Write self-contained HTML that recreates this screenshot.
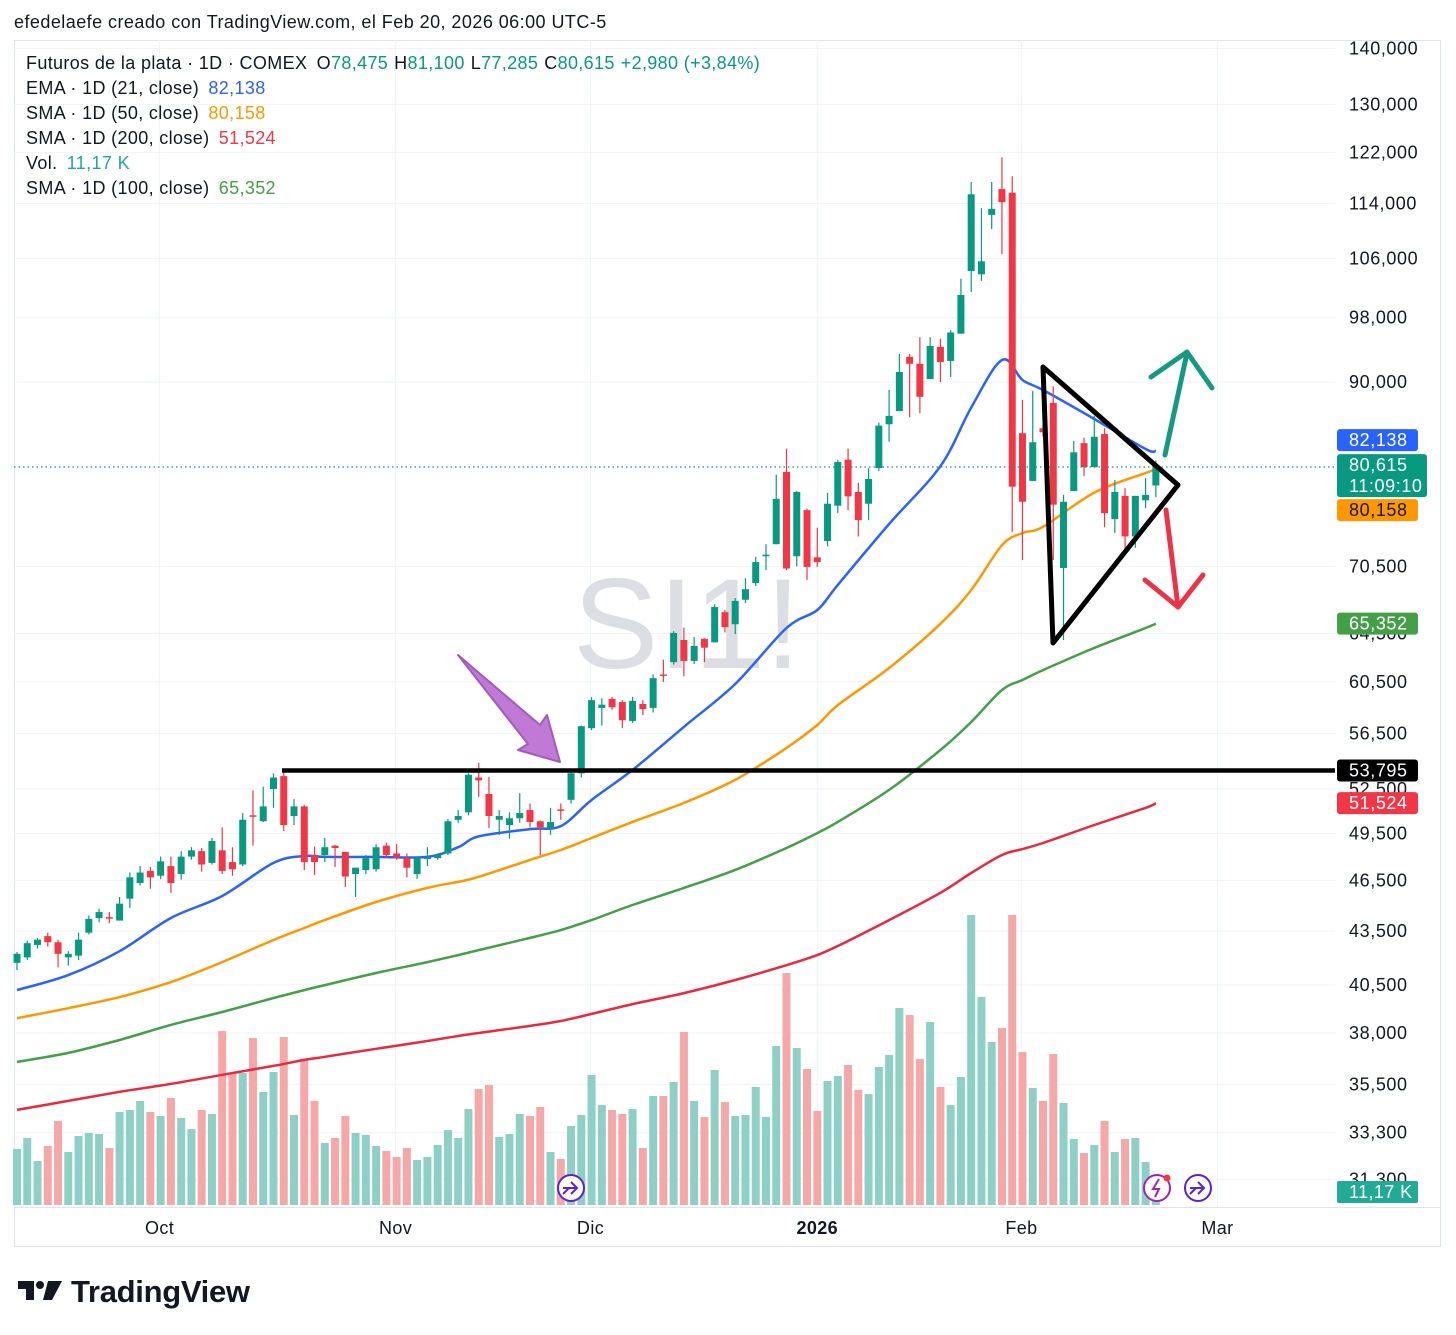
<!DOCTYPE html>
<html><head><meta charset="utf-8"><style>
html,body{margin:0;padding:0;background:#fff;}
svg{display:block;font-family:"Liberation Sans",sans-serif;}
</style></head><body>
<svg id="c" width="1456" height="1335" viewBox="0 0 1456 1335" xmlns="http://www.w3.org/2000/svg">
<text x="14" y="28" font-size="18" letter-spacing="0.45" fill="#131722">efedelaefe creado con TradingView.com, el Feb 20, 2026 06:00 UTC-5</text>
<rect x="14.5" y="40.5" width="1426" height="1206" fill="none" stroke="#e0e3eb"/>
<line x1="14" y1="1207.5" x2="1441" y2="1207.5" stroke="#e0e3eb"/>
<g id="grid"></g>
<text x="573" y="668" font-size="128" fill="#dcdee3">SI1!</text>
<g id="vol"></g>
<g id="mas"></g>
<g id="candles"></g>
<line x1="14" y1="467" x2="1335" y2="467" stroke="#089981" stroke-width="1.2" stroke-dasharray="1.5,3"/>
<line x1="282" y1="770.5" x2="1335" y2="770.5" stroke="#000" stroke-width="4.5"/>
<polygon points="458,655 540,725 547,715 560,762 518,750 528,744" fill="#c07ad6" stroke="#a35ac0" stroke-width="2" stroke-linejoin="round"/>
<polygon points="1043,367 1178,485 1053,643" fill="none" stroke="#000" stroke-width="5" stroke-linejoin="round"/>
<g stroke="#139a80" stroke-width="5" fill="none" stroke-linecap="round" stroke-linejoin="round">
<line x1="1165" y1="455" x2="1187" y2="353"/><polyline points="1151,377 1187,352 1212,388"/></g>
<g stroke="#ec3347" stroke-width="5" fill="none" stroke-linecap="round" stroke-linejoin="round">
<line x1="1166" y1="510" x2="1178" y2="607"/><polyline points="1145,580 1178,607 1203,575"/></g>
<g id="axis"></g>
<g id="taxis"></g>
<g id="tags"></g>
<g font-size="18" letter-spacing="0.35">
<text x="26" y="69" fill="#131722">Futuros de la plata · 1D · COMEX <tspan dx="4">O</tspan><tspan fill="#089981">78,475</tspan><tspan dx="6">H</tspan><tspan fill="#089981">81,100</tspan><tspan dx="6">L</tspan><tspan fill="#089981">77,285</tspan><tspan dx="6">C</tspan><tspan fill="#089981">80,615</tspan><tspan dx="6" fill="#089981">+2,980 (+3,84%)</tspan></text>
<text x="26" y="94" fill="#131722">EMA · 1D (21, close) <tspan dx="4" fill="#2962ff">82,138</tspan></text>
<text x="26" y="119" fill="#131722">SMA · 1D (50, close) <tspan dx="4" fill="#ff9800">80,158</tspan></text>
<text x="26" y="144" fill="#131722">SMA · 1D (200, close) <tspan dx="4" fill="#f23645">51,524</tspan></text>
<text x="26" y="169" fill="#131722">Vol. <tspan dx="4" fill="#22ab94">11,17 K</tspan></text>
<text x="26" y="194" fill="#131722">SMA · 1D (100, close) <tspan dx="4" fill="#43a047">65,352</tspan></text>
</g>
<g><circle cx="571" cy="1188" r="13" fill="#fff" stroke="#5b21d6" stroke-width="2"/><path d="M563,1188 h14 M571,1182 l6,6 -6,6 M563,1194 l6,-6" stroke="#5b21d6" stroke-width="2" fill="none"/></g>
<g><circle cx="1157" cy="1188" r="13" fill="#fff" stroke="#9c27b0" stroke-width="2"/><path d="M1159,1179 l-6,10 h6 l-4,8" stroke="#9c27b0" stroke-width="2" fill="none"/><circle cx="1167" cy="1178" r="3.5" fill="#f23645"/></g>
<g><circle cx="1198" cy="1188" r="13" fill="#fff" stroke="#5b21d6" stroke-width="2"/><path d="M1190,1188 h14 M1198,1182 l6,6 -6,6 M1190,1194 l6,-6" stroke="#5b21d6" stroke-width="2" fill="none"/></g>
<g>
<path d="M18,1281 h16 v19 h-8 v-11 h-8 z" fill="#131722"/><circle cx="40" cy="1285" r="4" fill="#131722"/><path d="M48,1281 h14 l-10,19 h-9 z" fill="#131722"/>
<text x="71" y="1302" font-size="31" font-weight="bold" fill="#131722" letter-spacing="-0.3">TradingView</text></g>
</svg>
<script>
// ---- data (prices in thousands USD) ----
const opens  = [41.7,42.0,42.7,43.2,42.85,42.0,42.1,43.4,44.25,44.3,44.1,45.4,46.35,47.1,46.8,47.4,46.9,48.0,48.35,47.6,48.4,47.65,47.5,50.7,50.3,52.5,53.4,50.65,51.3,48.1,48.1,48.7,48.3,46.9,47.15,47.2,48.7,48.2,47.9,46.9,47.85,47.9,48.2,50.4,50.9,53.3,52.15,50.4,50.05,50.5,51.05,50.3,49.85,51.1,51.75,53.6,56.9,58.45,59.15,58.9,57.45,58.75,58.45,61.1,62.1,63.95,62.2,64.05,63.75,66.35,65.3,67.45,68.95,71.45,72.6,79.9,71.45,75.95,71.35,72.9,76.4,81.2,77.8,76.6,80.3,85.1,86.6,93.05,92.2,90.35,94.3,92.55,95.95,104.25,103.8,112.3,116.2,115.65,84.1,78.95,84.65,87.55,70.35,77.9,83.0,80.4,84.0,75.05,77.4,73.35,76.95,78.475];
const highs  = [42.3,42.95,43.1,43.4,43.0,42.35,43.4,44.4,44.8,44.6,45.5,47.0,47.4,47.35,48.0,48.0,48.35,48.6,48.55,49.2,49.9,48.6,50.85,52.4,52.65,53.6,53.85,51.8,51.4,48.65,49.2,48.75,48.3,47.3,48.1,48.8,48.9,48.8,48.2,47.95,48.6,48.2,50.45,51.05,53.6,54.35,53.35,51.05,50.9,52.2,51.5,50.35,51.2,51.5,53.7,57.1,59.3,59.2,59.3,59.05,59.3,59.05,61.1,62.3,64.7,65.0,64.2,64.1,67.05,66.55,67.6,69.4,71.4,72.6,79.6,82.4,77.9,76.1,74.2,77.7,81.2,82.4,78.75,80.3,85.3,89.05,93.4,93.4,95.5,95.5,95.3,96.4,103.2,117.3,113.3,117.3,121.2,118.2,87.9,88.95,85.0,89.5,77.5,83.25,83.6,86.05,84.65,79.05,78.2,77.4,79.25,81.1];
const lows   = [41.3,41.85,42.5,42.6,41.45,41.55,41.85,43.3,44.0,43.95,44.1,44.85,46.2,46.0,46.6,45.75,46.55,47.8,47.05,47.5,46.9,46.8,47.4,48.7,50.25,51.2,49.65,50.05,47.15,46.85,47.65,47.35,46.1,45.5,46.9,47.05,47.9,47.8,46.7,46.6,47.4,47.8,48.1,50.2,50.7,51.95,49.85,49.4,49.15,50.2,49.9,48.1,49.4,50.4,51.5,53.3,56.75,57.1,58.3,56.9,57.3,57.9,58.1,60.5,61.9,60.95,61.95,62.1,63.75,64.6,64.45,67.15,68.7,70.15,72.6,70.15,70.5,69.25,70.45,72.4,75.65,75.95,73.35,74.95,80.0,83.15,86.6,85.9,86.35,90.35,90.0,90.6,95.95,101.4,102.9,110.2,106.6,73.8,71.1,78.95,83.7,71.1,63.95,77.9,79.45,80.4,74.25,73.7,71.75,72.25,76.15,77.285];
const closes = [42.2,42.8,43.0,42.85,42.2,42.2,43.0,44.2,44.6,44.25,45.1,46.7,47.0,46.7,47.7,46.35,48.0,48.4,47.5,49.0,47.1,47.2,50.4,50.6,51.3,53.3,50.05,51.3,47.65,47.65,48.6,48.55,46.75,47.3,47.9,48.6,48.1,47.95,47.3,47.95,47.95,48.1,50.3,50.65,53.5,53.1,50.65,50.65,50.5,50.85,50.25,49.9,50.25,51.0,53.6,57.05,59.05,58.7,58.5,57.5,59.0,58.35,60.8,61.0,64.55,62.2,63.45,63.3,66.8,65.05,67.35,68.4,70.9,71.6,77.1,70.3,77.8,70.45,70.9,76.6,80.95,77.35,74.95,79.15,84.95,86.05,91.2,92.2,88.25,94.4,92.4,96.1,101.0,115.4,105.6,113.2,114.2,78.35,76.8,83.1,84.2,76.5,76.8,82.0,80.4,83.7,75.65,77.8,73.35,77.4,77.5,80.615];
const volumes = [56,67,44,59,84,53,69,72,71,57,93,95,104,93,89,107,87,76,95,91,174,132,132,167,113,133,168,90,146,104,62,67,89,72,70,59,54,48,57,45,48,60,75,67,96,116,120,68,71,91,89,98,53,46,79,90,130,100,95,91,96,57,109,109,123,173,104,88,135,103,89,90,118,88,159,232,157,136,94,124,129,140,115,111,138,150,197,190,146,183,118,100,128,290,208,163,177,290,153,117,104,151,102,66,52,60,84,53,66,67,43,11.17];
const maIndex = [0,5,10,15,20,25,28,30,35,40,43,45,50,53,56,60,65,70,75,78,80,85,90,93,96,98,100,105,110,111];
const ema21  = [40.22,41.03,42.35,44.25,45.56,47.6,48.04,47.98,47.98,47.98,48.6,49.3,49.78,49.98,51.74,53.84,57.0,60.33,64.97,66.54,68.79,74.57,80.5,87.0,92.66,90.24,89.05,85.7,82.36,82.138];
const sma50  = [38.75,39.27,39.85,40.65,41.74,42.98,43.67,44.13,45.2,46.05,46.42,46.73,47.79,48.42,49.2,50.26,51.54,53.13,55.43,57.14,58.67,61.62,65.34,68.33,72.5,73.69,74.29,77.74,79.78,80.158];
const sma100 = [36.57,37.01,37.65,38.41,39.07,39.8,40.22,40.49,41.14,41.74,42.13,42.41,43.1,43.55,44.13,45.02,46.05,47.16,48.55,49.52,50.26,52.43,55.28,57.37,59.85,60.65,61.45,63.28,64.97,65.352];
const sma200 = [34.32,34.73,35.15,35.52,35.95,36.38,36.67,36.82,37.21,37.6,37.85,38.0,38.36,38.61,38.97,39.48,40.06,40.76,41.57,42.13,42.64,44.13,45.75,46.97,48.1,48.48,48.87,50.05,51.2,51.524];
const priceTicks = [140,130,122,114,106,98,90,70.5,64.5,60.5,56.5,52.5,49.5,46.5,43.5,40.5,38,35.5,33.3,31.3];
const monthLabels = ["Oct","Nov","Dic","2026","Feb","Mar"];
const monthIndex = [13.9,36.9,55.9,78.0,97.9,117.0];

const NS="http://www.w3.org/2000/svg";
const X0=17, DX=10.26;
function xs(i){return X0+i*DX;}
function ys(p){return 382+Math.log(90/p)*755;}
function vy(v){return 1205-v;}
function mk(tag,attrs,parent){const e=document.createElementNS(NS,tag);for(const k in attrs)e.setAttribute(k,attrs[k]);parent.appendChild(e);return e;}
function fmt(p){return Math.round(p*1000).toLocaleString('en-US');}

const grid=document.getElementById('grid');
priceTicks.forEach(p=>{const l=mk('line',{x1:14,x2:1335,y1:ys(p),y2:ys(p),stroke:'#f0f3fa','stroke-width':1},grid);

});
monthIndex.forEach(i=>{const l=mk('line',{x1:xs(i),x2:xs(i),y1:40,y2:1207,stroke:'#f0f3fa','stroke-width':1},grid);

});

const axis=document.getElementById('axis');
priceTicks.forEach(p=>{const t=mk('text',{x:1349,y:ys(p)+6,'font-size':18,'letter-spacing':0.6,fill:'#131722'},axis);t.textContent=fmt(p);

});
const taxis=document.getElementById('taxis');
monthLabels.forEach((m,k)=>{const t=mk('text',{x:xs(monthIndex[k]),y:1234,'font-size':18,'letter-spacing':0.4,fill:'#131722','text-anchor':'middle','font-weight':m==='2026'?'bold':'normal'},taxis);t.textContent=m;

});

const vol=document.getElementById('vol');
volumes.forEach((v,i)=>{const up=closes[i]>=opens[i];const r=mk('rect',{x:xs(i)-4,y:vy(v),width:8,height:v,fill:up?'#8fd0c6':'#f6a8a8'},vol);

});

function smooth(pts){
 let d='M'+pts[0][0].toFixed(1)+','+pts[0][1].toFixed(1);
 for(let k=0;k<pts.length-1;k++){
  const p0=pts[Math.max(0,k-1)],p1=pts[k],p2=pts[k+1],p3=pts[Math.min(pts.length-1,k+2)];
  const c1=[p1[0]+(p2[0]-p0[0])/6,p1[1]+(p2[1]-p0[1])/6];
  const c2=[p2[0]-(p3[0]-p1[0])/6,p2[1]-(p3[1]-p1[1])/6];
  d+=' C'+c1[0].toFixed(1)+','+c1[1].toFixed(1)+' '+c2[0].toFixed(1)+','+c2[1].toFixed(1)+' '+p2[0].toFixed(1)+','+p2[1].toFixed(1);
 }
 return d;
}
const mas=document.getElementById('mas');
[[sma200,'#e8293f','sma200-line'],[sma100,'#43a047','sma100-line'],[sma50,'#ff9800','sma50-line'],[ema21,'#2962ff','ema21-line']].forEach(([arr,col,nm])=>{
 const pts=arr.map((v,k)=>[xs(maIndex[k]),ys(v)]);
 const p=mk('path',{d:smooth(pts),fill:'none',stroke:col,'stroke-width':2.5,'stroke-linejoin':'round'},mas);
 
 
});

const cg=document.getElementById('candles');
opens.forEach((o,i)=>{const c=closes[i],up=c>=o,col=up?'#089981':'#f23645',x=xs(i);
 const g=mk('g',{},cg);
 
 
 mk('line',{x1:x,x2:x,y1:ys(highs[i]),y2:ys(lows[i]),stroke:col,'stroke-width':1.2},g);
 const top=ys(Math.max(o,c)),bot=ys(Math.min(o,c));
 mk('rect',{x:x-3.5,y:top,width:7,height:Math.max(1.5,bot-top),fill:col},g);
});

// price tags: last-price tag anchored on its value, neighbours stacked around it
const tags=document.getElementById('tags');
const lastTop=ys(closes[closes.length-1])-11;
function tag(p,bg,fg,lines,nm,forcedTop){
 const h=lines.length>1?43:22;
 const y0=forcedTop!==undefined?forcedTop:ys(p)-11;
 const g=mk('g',{},tags);
 
 
 mk('rect',{x:1337,y:y0,width:lines.length>1?90:81,height:h,rx:3,fill:bg},g);
 lines.forEach((s,k)=>{const t=mk('text',{x:1349,y:y0+17+k*21,'font-size':18,'letter-spacing':0.6,fill:fg},g);t.textContent=s;});
}
tag(82.138,'#2962ff','#fff',['82,138'],'ema-price-tag',Math.min(ys(82.138)-11,lastTop-25));
tag(80.615,'#089981','#fff',['80,615','11:09:10'],'last-price-tag',lastTop);
tag(80.158,'#ff9800','#131722',['80,158'],'sma50-price-tag',Math.max(ys(80.158)-11,lastTop+45));
tag(65.352,'#43a047','#fff',['65,352'],'sma100-price-tag');
tag(53.795,'#000','#fff',['53,795'],'resistance-price-tag');
tag(51.524,'#f23645','#fff',['51,524'],'sma200-price-tag');
const vt=mk('g',{},tags);


mk('rect',{x:1337,y:1181,width:81,height:22,rx:2,fill:'#22ab94'},vt);
const vtt=mk('text',{x:1349,y:1198,'font-size':18,'letter-spacing':0.4,fill:'#fff'},vt);vtt.textContent='11,17 K';
</script>
</body></html>
